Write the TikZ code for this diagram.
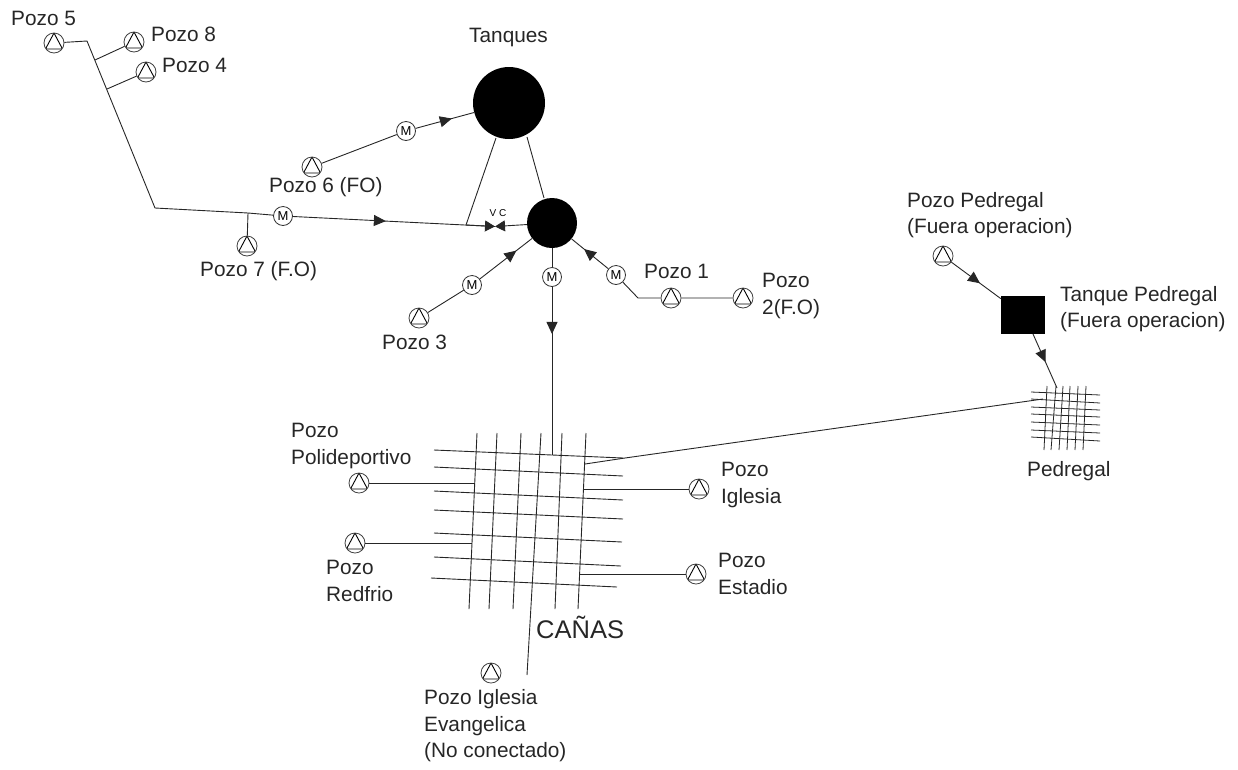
\documentclass[tikz,border=0pt]{standalone}
\usepackage{fontspec}
\setmainfont{Liberation Sans}
\usetikzlibrary{arrows.meta,decorations.markings}
\definecolor{linea}{gray}{0.15}
\tikzset{
  pozo/.style={circle,draw=black!75,line width=.8pt,fill=white,minimum size=20pt,inner sep=0pt,
    path picture={\draw[black,line width=.9pt] (path picture bounding box.north)
      -- ([xshift=1.5pt,yshift=4pt]path picture bounding box.south west)
      -- ([xshift=-1.5pt,yshift=4pt]path picture bounding box.south east) -- cycle;}},
  motor/.style={circle,draw=black!80,line width=.8pt,fill=white,minimum size=19pt,inner sep=0pt,
    font=\fontsize{13}{13}\selectfont},
  tanque/.style={circle,fill=black,inner sep=0pt,minimum size=#1},
  etiqueta/.style={inner sep=0pt,align=left,anchor=west,
    font=\fontsize{20.8}{26.5}\selectfont,text=black!85},
  tubo/.style={draw=linea,line width=.9pt},
  flecha/.style={decoration={markings,mark=at position #1 with
    {\arrow{Triangle[length=12pt,width=11pt]}}},postaction={decorate}}
}
\begin{document}
\begin{tikzpicture}[x=1pt,y=-1pt]
  \useasboundingbox (0,0) rectangle (1238,769);
  % red de Canas
  \foreach \xa/\xb/\yb in {477/469/609,497/489/609,521/513/609,541/527/675,562/555/609,586/578/609}
    \draw[tubo] (\xa,433) -- (\xb,\yb);
  \foreach \ya/\yb/\xa/\xb in {450/458/434/623,467/476/434/623,491/500/434/623,510/519/434/623,533/542/434/622,557/566/434/621,578/587/431/617}
    \draw[tubo] (\xa,\ya) -- (\xb,\yb);
  % red de Pedregal
  \foreach \xa/\xb in {1047/1044,1056/1051,1063/1059,1070/1067,1078/1075,1086/1083}
    \draw[tubo,line width=.8pt] (\xa,386) -- (\xb,450);
  \foreach \ya/\yb in {392/395,399/403,407/410,414/417,422/425,430/433,437/441}
    \draw[tubo,line width=.8pt] (1031,\ya) -- (1100,\yb);

  % tanques
  \node[tanque=72pt] (tanques) at (509,103) {};
  \node[tanque=50pt] (tanquechico) at (552,223) {};
  \node[fill=black,inner sep=0pt,minimum width=44pt,minimum height=38pt] (tanqueped) at (1023,315) {};

  % pozos
  \node[pozo] (pozo5) at (54,43) {};
  \node[pozo] (pozo8) at (134,42) {};
  \node[pozo] (pozo4) at (146,72) {};
  \node[pozo] (pozo6) at (312,167) {};
  \node[pozo] (pozo7) at (247,246) {};
  \node[pozo] (pozo3) at (419,318) {};
  \node[pozo] (pozo1) at (671,298) {};
  \node[pozo] (pozo2) at (743,298) {};
  \node[pozo] (pozoped) at (943,256) {};
  \node[pozo] (pozopoli) at (359,483) {};
  \node[pozo] (pozored) at (355,543) {};
  \node[pozo] (pozoigl) at (699,489) {};
  \node[pozo] (pozoest) at (696,574) {};
  \node[pozo] (pozoeva) at (491,673) {};

  % motores
  \node[motor] (motor6) at (406,131) {M};
  \node[motor] (motor7) at (283,216) {M};
  \node[motor] (motor3) at (472,285) {M};
  \node[motor] (motorsal) at (552,277) {M};
  \node[motor] (motor1) at (616,275) {M};

  % puntos de quiebre
  \coordinate (codoa) at (87,41);
  \coordinate (codob) at (155,208);
  \coordinate (juna) at (95,60);
  \coordinate (junb) at (107,89);
  \coordinate (junc) at (248,213);
  \coordinate (vc) at (495,226.5);
  \coordinate (junt) at (466,225);
  \coordinate (codoc) at (638,298);
  \coordinate (redtop) at (552,455);
  \coordinate (redpoli) at (475,483);
  \coordinate (redred) at (472,543);
  \coordinate (redigl) at (584,489);
  \coordinate (redest) at (580,574);
  \coordinate (redesq) at (585,464);
  \coordinate (redcodo) at (625,458);
  \coordinate (redped) at (1043,399);
  \coordinate (redpedtop) at (1057,388);
  \coordinate (tanqueizq) at (496,138);
  \coordinate (tanqueder) at (527,137);
  \coordinate (chicoder) at (544,198);
  \coordinate (tanquepedsal) at (1033,334);

  % tuberias
  \draw[tubo] (pozo5) -- (codoa) -- (codob) -- (junc) -- (motor7);
  \draw[tubo] (pozo8) -- (juna);
  \draw[tubo] (pozo4) -- (junb);
  \draw[tubo] (pozo7) -- (junc);
  \draw[tubo] (pozo6) -- (motor6);
  \draw[tubo,flecha=.62] (motor6) -- (tanques);
  \draw[tubo,flecha=.46] (motor7) -- (vc);
  \draw[tubo,-{Triangle[length=10pt,width=11pt]}] (junt) -- (vc);
  \draw[tubo,-{Triangle[length=10pt,width=11pt]}] (tanquechico) -- (vc);
  \draw[tubo] (tanqueizq) -- (junt);
  \draw[tubo] (tanqueder) -- (chicoder);
  \draw[tubo] (pozo3) -- (motor3);
  \draw[tubo,flecha=.7] (motor3) -- (tanquechico);
  \draw[tubo] (tanquechico) -- (motorsal);
  \draw[tubo,flecha=.28] (motorsal) -- (redtop);
  \draw[tubo,flecha=.66] (motor1) -- (tanquechico);
  \draw[tubo] (pozo2) -- (pozo1) -- (codoc) -- (motor1);
  \draw[tubo] (pozopoli) -- (redpoli);
  \draw[tubo] (pozored) -- (redred);
  \draw[tubo] (pozoigl) -- (redigl);
  \draw[tubo] (pozoest) -- (redest);
  \draw[tubo] (redesq) -- (redcodo) -- (redped);
  \draw[tubo,flecha=.58] (pozoped) -- (tanqueped);
  \draw[tubo,flecha=.52] (tanquepedsal) -- (redpedtop);

  % etiquetas
  \node[etiqueta] (lblpozo5) at (11,18) {Pozo 5};
  \node[etiqueta] (lblpozo8) at (151,34) {Pozo 8};
  \node[etiqueta] (lblpozo4) at (162,65) {Pozo 4};
  \node[etiqueta] (lbltanques) at (469,37) {Tanques};
  \node[etiqueta] (lblpozo6) at (269,187) {Pozo 6 (FO)};
  \node[etiqueta] (lblpozo7) at (200,271) {Pozo 7 (F.O)};
  \node[etiqueta] (lblpozo3) at (382,342) {Pozo 3};
  \node[etiqueta] (lblpozo1) at (644,271) {Pozo 1};
  \node[etiqueta] (lblpozo2) at (762,296) {Pozo\\2(F.O)};
  \node[etiqueta] (lblpozoped) at (907,215) {Pozo Pedregal\\(Fuera operacion)};
  \node[etiqueta] (lbltanqueped) at (1060,309) {Tanque Pedregal\\(Fuera operacion)};
  \node[etiqueta] (lblpedregal) at (1027,471) {Pedregal};
  \node[etiqueta] (lblpoli) at (291,446) {Pozo\\Polideportivo};
  \node[etiqueta] (lblred) at (326,581) {Pozo\\Redfrio};
  \node[etiqueta] (lbligl) at (721,485) {Pozo\\Iglesia};
  \node[etiqueta] (lblest) at (718,574) {Pozo\\Estadio};
  \node[etiqueta] (lbleva) at (424,726) {Pozo Iglesia\\Evangelica\\(No conectado)};
  \node[etiqueta,font=\fontsize{25.5}{26}\selectfont] (lblcanas) at (536,627) {CAÑAS};
  \node[inner sep=0pt,font=\fontsize{10}{10}\selectfont] (lblvc) at (498,213) {V C};
\end{tikzpicture}
\end{document}
